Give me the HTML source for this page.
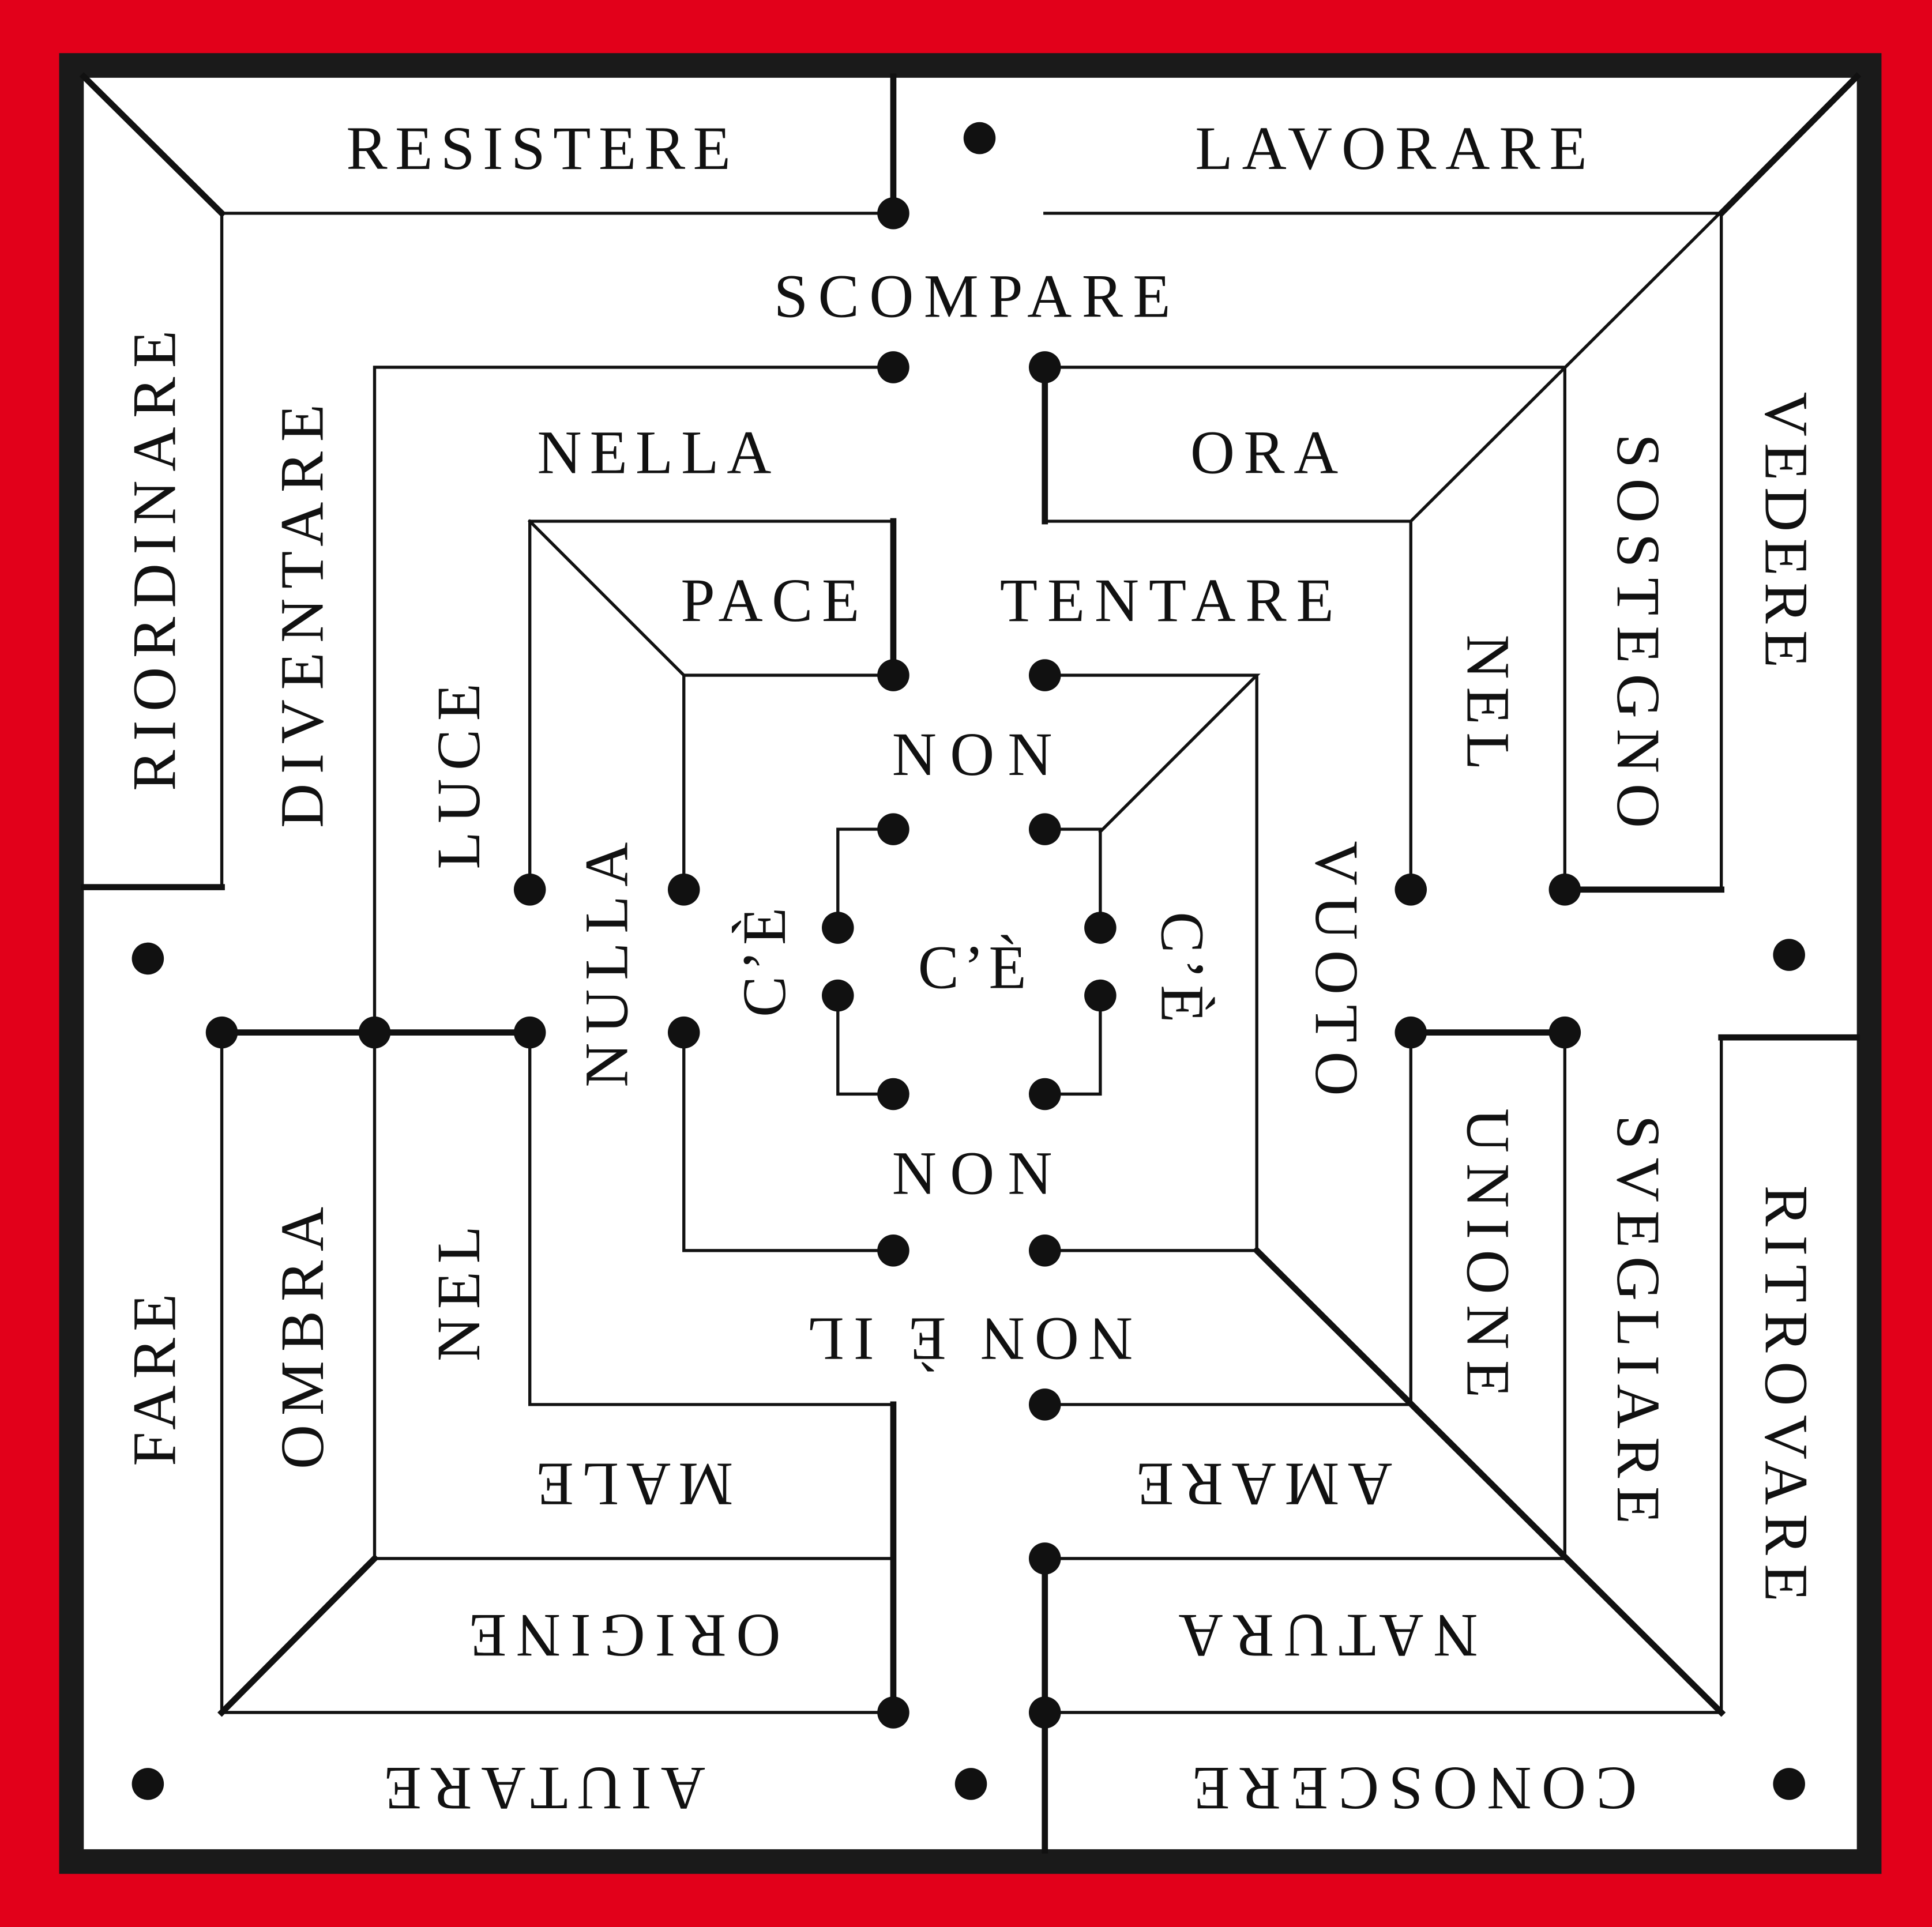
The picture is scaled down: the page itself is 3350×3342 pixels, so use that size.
<!DOCTYPE html>
<html><head><meta charset="utf-8"><style>
html,body{margin:0;padding:0;background:#e2001a}
svg{display:block}
text{font-family:"Liberation Serif",serif;font-size:50px;fill:#111}
</style></head><body>
<svg width="3350" height="3342" viewBox="0 0 1568 1564" xmlns="http://www.w3.org/2000/svg">
<rect x="0" y="0" width="1568" height="1564" fill="#e2001a"/>
<rect x="58" y="53" width="1459" height="1458" fill="#fff" stroke="#1a1a1a" stroke-width="20"/>
<g stroke="#111" fill="none" stroke-width="2.5" stroke-linecap="square">
<!-- thin lines -->
<path d="M180 173H725 M848 173H1397 M180 173V720 M1397 173V722 M1270 298V722 M848 298H1270 M848 423H1145 V722 M1507 62 L1145 423"/>
<path d="M304 298H725 M304 298V1265 M430 423H725 M430 423V722 M430 423L555 548 H725 M555 548V722"/>
<path d="M848 548H1020 L893 675 M1020 548V1015"/>
<path d="M725 673H680V753 M848 673H893V753 M680 808V888H725 M893 808V888H848"/>
<path d="M555 838V1015H725 M848 1015H1020 M848 1140H1145 M1145 838V1140 M1270 838V1265 M848 1265H1270 M848 1390H1397 M1397 842V1390"/>
<path d="M180 838V1390 M430 838V1140H725 M304 1265H725 M180 1390H725"/>
</g>
<g stroke="#111" fill="none" stroke-width="5" stroke-linecap="square">
<path d="M68 62L180 173 M725 62V173 M68 720H180 M1507 62L1397 173 M1270 722H1397 M848 298V423 M725 423V548"/>
<path d="M1020 1015L1397 1390 M1145 838H1270 M848 1265V1502 M1397 842H1507 M180 838H430 M725 1140V1390 M304 1265L180 1390"/>
</g>
<g fill="#111">
<circle cx="725" cy="173" r="13"/><circle cx="795" cy="112" r="13"/>
<circle cx="725" cy="298" r="13"/><circle cx="848" cy="298" r="13"/>
<circle cx="725" cy="548" r="13"/><circle cx="848" cy="548" r="13"/>
<circle cx="725" cy="673" r="13"/><circle cx="848" cy="673" r="13"/>
<circle cx="680" cy="753" r="13"/><circle cx="893" cy="753" r="13"/>
<circle cx="680" cy="808" r="13"/><circle cx="893" cy="808" r="13"/>
<circle cx="725" cy="888" r="13"/><circle cx="848" cy="888" r="13"/>
<circle cx="725" cy="1015" r="13"/><circle cx="848" cy="1015" r="13"/>
<circle cx="430" cy="722" r="13"/><circle cx="555" cy="722" r="13"/>
<circle cx="1145" cy="722" r="13"/><circle cx="1270" cy="722" r="13"/>
<circle cx="555" cy="838" r="13"/><circle cx="1145" cy="838" r="13"/><circle cx="1270" cy="838" r="13"/>
<circle cx="180" cy="838" r="13"/><circle cx="304" cy="838" r="13"/><circle cx="430" cy="838" r="13"/>
<circle cx="848" cy="1140" r="13"/><circle cx="848" cy="1265" r="13"/><circle cx="848" cy="1390" r="13"/>
<circle cx="725" cy="1390" r="13"/>
<circle cx="120" cy="778" r="13"/><circle cx="1452" cy="775" r="13"/>
<circle cx="120" cy="1448" r="13"/><circle cx="788" cy="1448" r="13"/><circle cx="1452" cy="1448" r="13"/>
</g>
<g text-anchor="middle">
<text x="437" y="137" textLength="312" lengthAdjust="spacing">RESISTERE</text>
<text x="1129" y="137" textLength="318" lengthAdjust="spacing">LAVORARE</text>
<text x="789" y="257" textLength="322" lengthAdjust="spacing">SCOMPARE</text>
<text x="531" y="384" textLength="190" lengthAdjust="spacing">NELLA</text>
<text x="1026" y="384" textLength="120" lengthAdjust="spacing">ORA</text>
<text x="625" y="504" textLength="145" lengthAdjust="spacing">PACE</text>
<text x="947" y="504" textLength="271" lengthAdjust="spacing">TENTARE</text>
<text x="789" y="629" textLength="130" lengthAdjust="spacing">NON</text>
<text x="789" y="802" textLength="88" lengthAdjust="spacing">C’È</text>
<text x="789" y="969" textLength="130" lengthAdjust="spacing">NON</text>

<g transform="rotate(180 787 1087)"><text x="787" y="1104" textLength="265" lengthAdjust="spacing">NON È IL</text></g>
<g transform="rotate(180 515 1205)"><text x="515" y="1222" textLength="160" lengthAdjust="spacing">MALE</text></g>
<g transform="rotate(180 1026 1205)"><text x="1026" y="1222" textLength="208" lengthAdjust="spacing">AMARE</text></g>
<g transform="rotate(180 507 1328)"><text x="507" y="1345" textLength="253" lengthAdjust="spacing">ORIGINE</text></g>
<g transform="rotate(180 1078 1328)"><text x="1078" y="1345" textLength="243" lengthAdjust="spacing">NATURA</text></g>
<g transform="rotate(180 442 1452)"><text x="442" y="1469" textLength="261" lengthAdjust="spacing">AIUTARE</text></g>
<g transform="rotate(180 1148 1452)"><text x="1148" y="1469" textLength="361" lengthAdjust="spacing">CONOSCERE</text></g>

<g transform="rotate(-90 125 455)"><text x="125" y="472" textLength="374" lengthAdjust="spacing">RIORDINARE</text></g>
<g transform="rotate(-90 245 500)"><text x="245" y="517" textLength="344" lengthAdjust="spacing">DIVENTARE</text></g>
<g transform="rotate(-90 372 630)"><text x="372" y="647" textLength="151" lengthAdjust="spacing">LUCE</text></g>
<g transform="rotate(-90 492 783)"><text x="492" y="800" textLength="199" lengthAdjust="spacing">NULLA</text></g>
<g transform="rotate(-90 620 781)"><text x="620" y="798" textLength="89" lengthAdjust="spacing">C’È</text></g>
<g transform="rotate(-90 125 1120)"><text x="125" y="1137" textLength="140" lengthAdjust="spacing">FARE</text></g>
<g transform="rotate(-90 245 1086)"><text x="245" y="1103" textLength="213" lengthAdjust="spacing">OMBRA</text></g>
<g transform="rotate(-90 372 1050)"><text x="372" y="1067" textLength="110" lengthAdjust="spacing">NEL</text></g>

<g transform="rotate(90 1450 430)"><text x="1450" y="447" textLength="224" lengthAdjust="spacing">VEDERE</text></g>
<g transform="rotate(90 1330 512)"><text x="1330" y="529" textLength="320" lengthAdjust="spacing">SOSTEGNO</text></g>
<g transform="rotate(90 1208 570)"><text x="1208" y="587" textLength="110" lengthAdjust="spacing">NEL</text></g>
<g transform="rotate(90 1085 786)"><text x="1085" y="803" textLength="207" lengthAdjust="spacing">VUOTO</text></g>
<g transform="rotate(90 960 785)"><text x="960" y="802" textLength="90" lengthAdjust="spacing">C’È</text></g>
<g transform="rotate(90 1208 1017)"><text x="1208" y="1034" textLength="235" lengthAdjust="spacing">UNIONE</text></g>
<g transform="rotate(90 1330 1071)"><text x="1330" y="1088" textLength="332" lengthAdjust="spacing">SVEGLIARE</text></g>
<g transform="rotate(90 1450 1131)"><text x="1450" y="1148" textLength="338" lengthAdjust="spacing">RITROVARE</text></g>
</g>
</svg>
</body></html>
